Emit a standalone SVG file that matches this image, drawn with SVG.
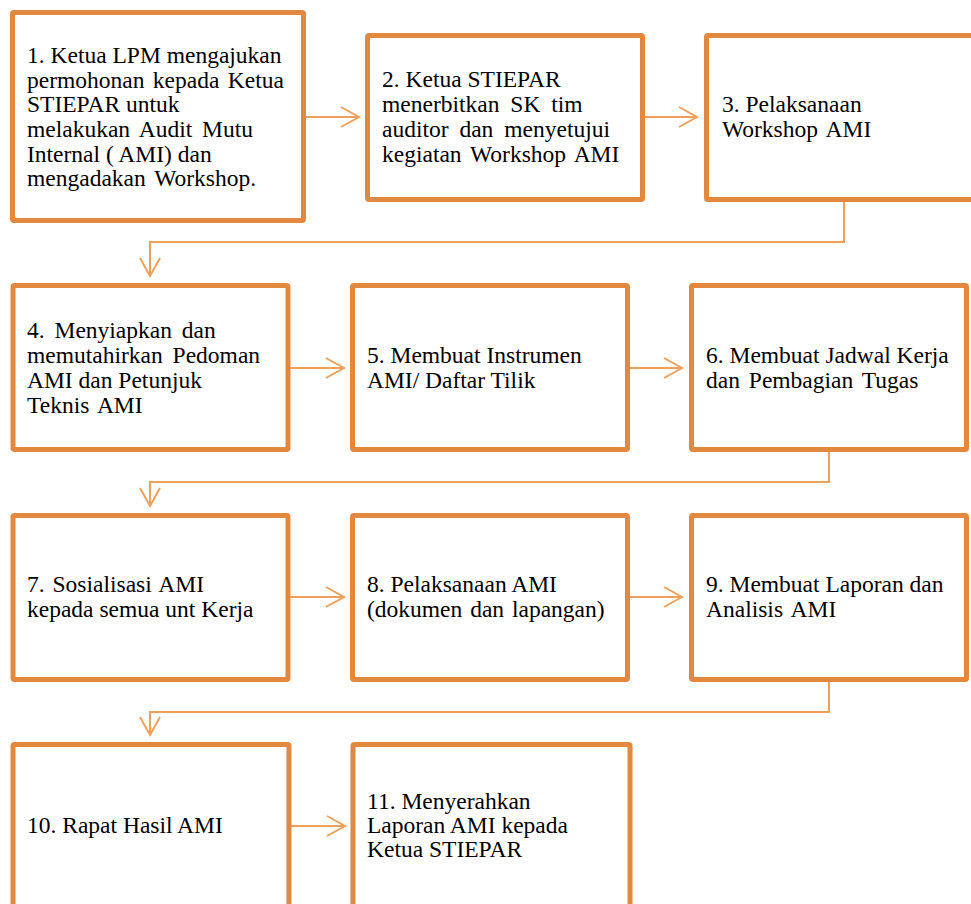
<svg xmlns="http://www.w3.org/2000/svg" width="971" height="904" viewBox="0 0 971 904">
<style>
.box{fill:#ffffff;stroke:#E2883F;stroke-width:5;}
.con{fill:none;stroke:#F0A05A;stroke-width:2;}
</style>
<defs>
<marker id="arr" markerUnits="userSpaceOnUse" markerWidth="24" markerHeight="24" viewBox="-20 -12 24 24" refX="0" refY="0" orient="auto">
<path d="M-18,-10 L0,0 L-18,10" fill="none" stroke="#F0A05A" stroke-width="2"/>
</marker>
</defs>
<rect width="971" height="904" fill="#ffffff"/>
<g id="connectors">
<path class="con" d="M306,117 H359" marker-end="url(#arr)"/>
<path class="con" d="M645,117 H697" marker-end="url(#arr)"/>
<path class="con" d="M844,202 V242 H150 V276" marker-end="url(#arr)"/>
<path class="con" d="M290,368 H344" marker-end="url(#arr)"/>
<path class="con" d="M630,368 H682" marker-end="url(#arr)"/>
<path class="con" d="M829,452 V482 H150 V506" marker-end="url(#arr)"/>
<path class="con" d="M290,597 H344" marker-end="url(#arr)"/>
<path class="con" d="M630,597 H682" marker-end="url(#arr)"/>
<path class="con" d="M829,682 V712 H150 V735" marker-end="url(#arr)"/>
<path class="con" d="M291,826 H345" marker-end="url(#arr)"/>
</g>
<g id="node1">
<rect class="box" x="12.5" y="12.5" width="291" height="208" rx="1.5"/>
<text x="27" y="63" font-family="'Liberation Serif'" font-size="23.5">1. Ketua LPM mengajukan</text>
<text x="27" y="88" font-family="'Liberation Serif'" font-size="23.5" word-spacing="2.5">permohonan kepada Ketua</text>
<text x="27" y="112" font-family="'Liberation Serif'" font-size="23.5">STIEPAR untuk</text>
<text x="27" y="137" font-family="'Liberation Serif'" font-size="23.5" word-spacing="4">melakukan Audit Mutu</text>
<text x="27" y="162" font-family="'Liberation Serif'" font-size="23.5">Internal ( AMI) dan</text>
<text x="27" y="186" font-family="'Liberation Serif'" font-size="23.5" word-spacing="3">mengadakan Workshop.</text>
</g>
<g id="node2">
<rect class="box" x="367.5" y="35.5" width="275" height="164" rx="1.5"/>
<text x="382" y="87" font-family="'Liberation Serif'" font-size="23.5">2. Ketua STIEPAR</text>
<text x="382" y="112" font-family="'Liberation Serif'" font-size="23.5" word-spacing="5">menerbitkan SK tim</text>
<text x="382" y="137" font-family="'Liberation Serif'" font-size="23.5" word-spacing="5">auditor dan menyetujui</text>
<text x="382" y="162" font-family="'Liberation Serif'" font-size="23.5" word-spacing="3">kegiatan Workshop AMI</text>
</g>
<g id="node3">
<rect class="box" x="706.5" y="35.5" width="290" height="164" rx="1.5"/>
<text x="722" y="112" font-family="'Liberation Serif'" font-size="23.5">3. Pelaksanaan</text>
<text x="722" y="137" font-family="'Liberation Serif'" font-size="23.5" word-spacing="3">Workshop AMI</text>
</g>
<g id="node4">
<rect class="box" x="13" y="285.5" width="275" height="164" rx="1.5"/>
<text x="27" y="338" font-family="'Liberation Serif'" font-size="23.5" word-spacing="4">4. Menyiapkan dan</text>
<text x="27" y="363" font-family="'Liberation Serif'" font-size="23.5" word-spacing="4">memutahirkan Pedoman</text>
<text x="27" y="388" font-family="'Liberation Serif'" font-size="23.5">AMI dan Petunjuk</text>
<text x="27" y="413" font-family="'Liberation Serif'" font-size="23.5" word-spacing="3">Teknis AMI</text>
</g>
<g id="node5">
<rect class="box" x="352.5" y="285.5" width="275" height="164" rx="1.5"/>
<text x="367" y="363" font-family="'Liberation Serif'" font-size="23.5">5. Membuat Instrumen</text>
<text x="367" y="388" font-family="'Liberation Serif'" font-size="23.5">AMI/ Daftar Tilik</text>
</g>
<g id="node6">
<rect class="box" x="691.5" y="285.5" width="275" height="164" rx="1.5"/>
<text x="706" y="363" font-family="'Liberation Serif'" font-size="23.5">6. Membuat Jadwal Kerja</text>
<text x="706" y="388" font-family="'Liberation Serif'" font-size="23.5" word-spacing="3">dan Pembagian Tugas</text>
</g>
<g id="node7">
<rect class="box" x="13" y="515.5" width="275" height="164" rx="1.5"/>
<text x="27" y="592" font-family="'Liberation Serif'" font-size="23.5" word-spacing="2">7. Sosialisasi AMI</text>
<text x="27" y="617" font-family="'Liberation Serif'" font-size="23.5">kepada semua unt Kerja</text>
</g>
<g id="node8">
<rect class="box" x="352.5" y="515.5" width="275" height="164" rx="1.5"/>
<text x="367" y="592" font-family="'Liberation Serif'" font-size="23.5">8. Pelaksanaan AMI</text>
<text x="367" y="617" font-family="'Liberation Serif'" font-size="23.5" word-spacing="2">(dokumen dan lapangan)</text>
</g>
<g id="node9">
<rect class="box" x="691.5" y="515.5" width="275" height="164" rx="1.5"/>
<text x="706" y="592" font-family="'Liberation Serif'" font-size="23.5">9. Membuat Laporan dan</text>
<text x="706" y="617" font-family="'Liberation Serif'" font-size="23.5" word-spacing="3">Analisis AMI</text>
</g>
<g id="node10">
<rect class="box" x="13" y="744.5" width="276" height="200" rx="1.5"/>
<text x="27" y="833" font-family="'Liberation Serif'" font-size="23.5">10. Rapat Hasil AMI</text>
</g>
<g id="node11">
<rect class="box" x="353" y="744.5" width="277" height="200" rx="1.5"/>
<text x="367" y="809" font-family="'Liberation Serif'" font-size="23.5">11. Menyerahkan</text>
<text x="367" y="833" font-family="'Liberation Serif'" font-size="23.5">Laporan AMI kepada</text>
<text x="367" y="857" font-family="'Liberation Serif'" font-size="23.5">Ketua STIEPAR</text>
</g>
</svg>
